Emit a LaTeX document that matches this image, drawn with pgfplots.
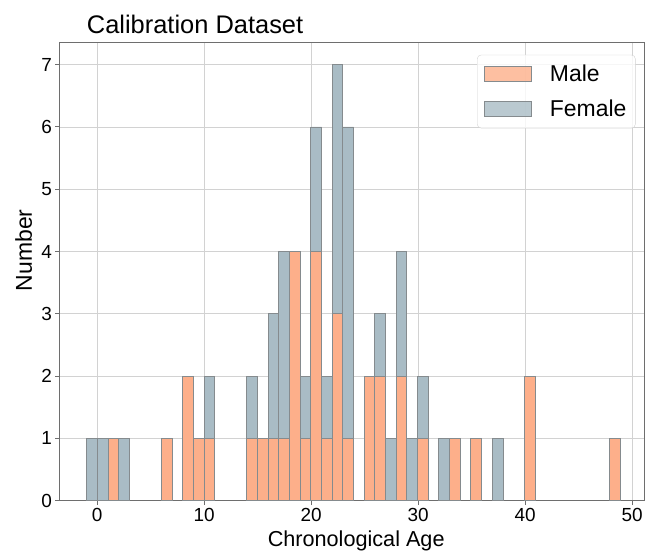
\documentclass[border=0pt]{standalone}
\usepackage{pgfplots}
\pgfplotsset{compat=1.18}
\usepackage{pgfplotstable}
\usepackage{fontspec}
\setmainfont{Liberation Sans}
\definecolor{malecol}{HTML}{FDAF8A}
\definecolor{femcol}{HTML}{A9BCC5}
\definecolor{edgecol}{HTML}{858B8E}
\definecolor{gridcol}{HTML}{D2D2D2}
\definecolor{spinecol}{HTML}{6E6E6E}
\pgfplotsset{rectlegend/.style={legend image code/.code={%
  \draw[##1, sharp corners] (0bp,-7.5bp) rectangle (47bp,7.5bp);}}}

% bin centre, male count, female count (stacked on male)
\pgfplotstableread{
x male female
-0.46 0 1
0.54 0 1
1.53 1 0
2.53 0 1
6.52 1 0
8.51 2 0
9.51 1 0
10.51 1 1
14.50 1 1
15.49 1 0
16.49 1 2
17.49 1 3
18.48 4 0
19.48 1 1
20.48 4 2
21.47 1 1
22.47 3 4
23.47 1 5
25.46 2 0
26.46 2 1
27.46 0 1
28.45 2 2
29.45 0 1
30.45 1 1
32.44 0 1
33.44 1 0
35.43 1 0
37.43 0 1
40.42 2 0
48.39 1 0
}\hist

\begin{document}
\begin{tikzpicture}
\begin{axis}[
  at={(0,0)}, anchor=south west,
  width=586bp, height=459bp, scale only axis,
  xmin=-3.48, xmax=51.14, ymin=0, ymax=7.35,
  xtick={0,10,...,50}, ytick={0,...,7},
  ybar stacked, bar width=0.997,
  grid=major, grid style={gridcol, line width=0.9bp},
  axis line style={spinecol, line width=1.1bp},
  tick style={spinecol, line width=1bp},
  major tick length=4.5bp, tick align=outside, tick pos=left,
  /pgf/number format/assume math mode=true,
  tick label style={font=\fontsize{19bp}{22bp}\selectfont},
  title={Calibration Dataset},
  title style={at={(axis description cs:0.046,1.008)}, anchor=base west,
    font=\fontsize{25.5bp}{29bp}\selectfont, inner sep=0pt},
  xlabel={Chronological Age},
  xlabel style={at={(axis description cs:0.507,-0.100)}, anchor=base,
    font=\fontsize{21.7bp}{25bp}\selectfont, inner sep=0pt},
  ylabel={Number},
  ylabel style={at={(axis description cs:-0.0478,0.547)}, anchor=base,
    font=\fontsize{23bp}{27bp}\selectfont, inner sep=0pt},
  legend cell align=left,
  legend style={at={(axis description cs:0.985,0.974)}, anchor=north east,
    draw=gridcol, rounded corners=4bp, fill=white, fill opacity=0.8,
    text opacity=1, font=\fontsize{23bp}{26bp}\selectfont,
    inner xsep=7bp, inner ysep=8bp, row sep=13bp},
]
\addplot[fill=malecol, draw=edgecol, line width=0.9bp, rectlegend]
  table[x=x, y=male] {\hist};
\addlegendentry{\hspace{16bp}Male}
\addplot[fill=femcol, draw=edgecol, line width=0.9bp, rectlegend]
  table[x=x, y=female] {\hist};
\addlegendentry{\hspace{16bp}Female}
\end{axis}
\path[use as bounding box] (-60bp,-54bp) rectangle (586bp,502bp);
\end{tikzpicture}
\end{document}
